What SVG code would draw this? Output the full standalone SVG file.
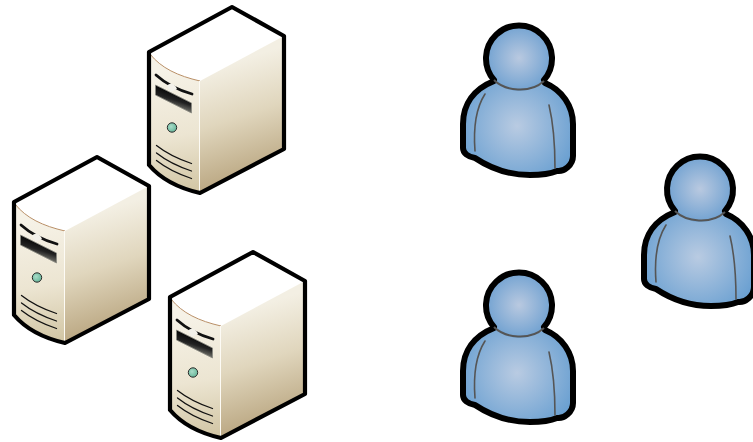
<svg xmlns="http://www.w3.org/2000/svg" xmlns:xlink="http://www.w3.org/1999/xlink" width="753" height="442" viewBox="0 0 753 442">
<defs>
<linearGradient id="side" gradientUnits="userSpaceOnUse" x1="225" y1="65" x2="262" y2="178"><stop offset="0" stop-color="#f3efe3"/><stop offset="0.45" stop-color="#e0d6bd"/><stop offset="1" stop-color="#b8a47e"/></linearGradient>
<linearGradient id="front" gradientUnits="userSpaceOnUse" x1="165" y1="70" x2="185" y2="190"><stop offset="0" stop-color="#f6f2e7"/><stop offset="0.55" stop-color="#ece5d2"/><stop offset="1" stop-color="#d3c7a6"/></linearGradient>
<linearGradient id="slot" gradientUnits="userSpaceOnUse" x1="176" y1="90" x2="171" y2="106"><stop offset="0" stop-color="#000"/><stop offset="0.6" stop-color="#222"/><stop offset="1" stop-color="#6c6c66"/></linearGradient>
<radialGradient id="blue" gradientUnits="userSpaceOnUse" cx="519" cy="58" r="36"><stop offset="0" stop-color="#b9c9e0"/><stop offset="1" stop-color="#6c9fd0"/></radialGradient>
<radialGradient id="blueBody" gradientUnits="userSpaceOnUse" cx="517" cy="126" r="66"><stop offset="0" stop-color="#b9cbe2"/><stop offset="1" stop-color="#659dd0"/></radialGradient>
<radialGradient id="ledG" cx="0.4" cy="0.4" r="0.7"><stop offset="0" stop-color="#a9dcc8"/><stop offset="1" stop-color="#5fb295"/></radialGradient>
<style>
.outline{fill:none;stroke:#000;stroke-width:4.2;stroke-linejoin:round;stroke-linecap:round}
.vent{fill:none;stroke:#111;stroke-width:1.3;stroke-linecap:round}
.crease{fill:none;stroke:#555;stroke-width:1.6;stroke-linecap:round}
.pline{fill:none;stroke:#000;stroke-width:6;stroke-linejoin:round;stroke-linecap:round}
</style>
<g id="server">
<path d="M149 52L232 7L284 36L200 81C178 76 160 68 149 52Z" fill="#fff"/>
<path d="M200 81L284 36V149L200 193Z" fill="url(#side)"/>
<path d="M149 53C160 68 178 76 199 81V193C176 188 160 178 149 165Z" fill="url(#front)"/>
<path d="M150 54C161 68 178 76 200 81" fill="none" stroke="#b98f66" stroke-width="1"/>
<path d="M199.500 81V192" stroke="#fdfbf5" stroke-width="1"/>
<path d="M156 75C166 84 178 90 192 94" fill="none" stroke="#111" stroke-width="2.800" stroke-linecap="round"/>
<path d="M155.500 85L191.500 103V113L155.500 95Z" fill="url(#slot)" stroke="#8a8a82" stroke-width="0.800"/>
<path d="M167 86C170 82 175 84 177 89L171 92Z" fill="#f3f1ea"/>
<circle cx="172" cy="127.500" r="4.700" fill="url(#ledG)" stroke="#2a2a2a" stroke-width="1"/>
<path class="vent" d="M156.500 145.500C166 153 178 159 191.500 163.500"/>
<path class="vent" d="M156.500 153C166 160.500 178 166.500 191.500 171"/>
<path class="vent" d="M156.500 160.500C166 168 178 174 191.500 178.500"/>
<path class="outline" d="M149 52L232 7L284 36V149L200 193C178 188 160 178 149 165Z"/>
</g>
<g id="person">
<path d="M494 80C474 88 463 104 463 124V148C463 153 468 157 475 158C490 168 510 175 530 175C540 175 550 174 557 171C564 172 573 165 573 156V124C573 106 562 90 545 82C530 92 508 92 494 80Z" fill="url(#blueBody)"/>
<path class="pline" d="M494 81C474 89 463 104 463 124V148C463 153 468 157 475 158C490 168 510 175 530 175C540 175 550 174 557 171C564 172 573 165 573 156V124C573 106 562 90 545 83"/>
<path class="crease" d="M485 94C476 108 473 125 475 151"/>
<path class="crease" d="M549 105C553 122 555 145 555 168"/>
<circle cx="519" cy="58" r="33" fill="url(#blue)"/>
<path d="M494 80A33 33 0 1 1 544 80" fill="none" stroke="#000" stroke-width="6" stroke-linecap="round"/>
<path d="M494 80C505 91 530 94 544 81" fill="none" stroke="#555" stroke-width="2"/>
</g>
</defs>
<g id="server-1"><use xlink:href="#server" href="#server"/></g>
<g id="server-2"><use xlink:href="#server" href="#server" x="-135" y="150"/></g>
<g id="server-3"><use xlink:href="#server" href="#server" x="21" y="245"/></g>
<g id="person-1"><use xlink:href="#person" href="#person"/></g>
<g id="person-2"><use xlink:href="#person" href="#person" x="181" y="131"/></g>
<g id="person-3"><use xlink:href="#person" href="#person" y="247"/></g>
<g id="connectors"/>
</svg>
